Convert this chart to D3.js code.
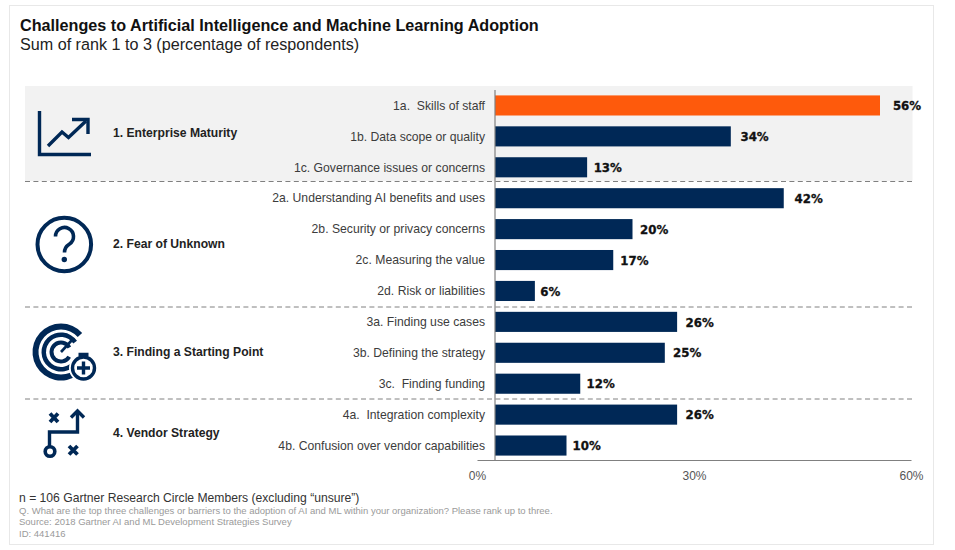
<!DOCTYPE html>
<html>
<head>
<meta charset="utf-8">
<script src="https://cdn.jsdelivr.net/npm/d3@7"></script>
<style>
  html, body { margin: 0; padding: 0; background: #fff; }
  svg { display: block; }
  text { font-family: "Liberation Sans", Arial, sans-serif; white-space: pre; }
</style>
</head>
<body>
<div class="canvas"></div>
<script>
const width = 955;
const height = 550;

const categories = [
  "1a.  Skills of staff",
  "1b. Data scope or quality",
  "1c. Governance issues or concerns",
  "2a. Understanding AI benefits and uses",
  "2b. Security or privacy concerns",
  "2c. Measuring the value",
  "2d. Risk or liabilities",
  "3a. Finding use cases",
  "3b. Defining the strategy",
  "3c.  Finding funding",
  "4a.  Integration complexity",
  "4b. Confusion over vendor capabilities"
];
// they round to the printed labels
const values = [56, 34.3, 13.4, 42, 20, 17.2, 5.8, 26.49, 24.7, 12.4, 26.49, 10.4];

const groups = [
  "1. Enterprise Maturity",
  "2. Fear of Unknown",
  "3. Finding a Starting Point",
  "4. Vendor Strategy"
];
const axisTicks = [0, 30, 60];

const navy = "#002856";
const orange = "#fe5a0c";

// Create Scale Functions
const xScale = d3.scaleLinear().domain([0, 60]).range([495, 907.5]);
// the printed axis sits a bit left of the bars in the original
const tickScale = d3.scaleLinear().domain([0, 60]).range([477, 911]);
// value labels drift away from the bar ends as the bars get longer
const labelScale = d3.scaleLinear().domain([0, 60]).range([499.5, 921]);
const yScale = d3
  .scaleBand()
  .domain(categories)
  .range([90, 461])
  .paddingInner(0.35)
  .paddingOuter(0.175);

// Create SVG Element
const svg = d3
  .select(".canvas")
  .append("svg")
  .attr("width", width)
  .attr("height", height);

// Frame
svg
  .append("rect")
  .attr("x", 9.5)
  .attr("y", 5.5)
  .attr("width", 924)
  .attr("height", 539)
  .attr("fill", "#fff")
  .attr("stroke", "#e8e8e8");

// Title
svg
  .append("text")
  .attr("x", 20)
  .attr("y", 31)
  .attr("font-size", 16.2)
  .attr("font-weight", "bold")
  .attr("fill", "#111")
  .text("Challenges to Artificial Intelligence and Machine Learning Adoption");
svg
  .append("text")
  .attr("x", 20)
  .attr("y", 50)
  .attr("font-size", 16.15)
  .attr("fill", "#222")
  .text("Sum of rank 1 to 3 (percentage of respondents)");

// Shaded first group
svg
  .append("rect")
  .attr("x", 25)
  .attr("y", 86)
  .attr("width", 887.5)
  .attr("height", 95)
  .attr("fill", "#f2f2f2");

// Separators
svg
  .selectAll(".sep")
  .data([181.5, 307, 399])
  .enter()
  .append("line")
  .attr("class", "sep")
  .attr("x1", 25)
  .attr("x2", 912)
  .attr("y1", d => d)
  .attr("y2", d => d)
  .attr("stroke", "#808080")
  .attr("stroke-width", 1)
  .attr("stroke-dasharray", "5 3.4");

// Category labels
svg
  .selectAll(".cat")
  .data(categories)
  .enter()
  .append("text")
  .attr("class", "cat")
  .attr("x", 485)
  .attr("y", d => yScale(d) + yScale.bandwidth() / 2)
  .attr("dy", "0.35em")
  .attr("text-anchor", "end")
  .attr("font-size", 12.2)
  .attr("fill", "#3c3c3c")
  .text(d => d);

// Group labels
svg
  .selectAll(".group")
  .data(groups)
  .enter()
  .append("text")
  .attr("class", "group")
  .attr("x", 113)
  .attr("y", (d, i) => [133, 244, 352, 433][i])
  .attr("dy", "0.35em")
  .attr("font-size", 12.15)
  .attr("font-weight", "bold")
  .attr("fill", "#222")
  .text(d => d);

// Bars
svg
  .selectAll(".bar")
  .data(values)
  .enter()
  .append("rect")
  .attr("class", "bar")
  .attr("x", xScale(0))
  .attr("y", (d, i) => yScale(categories[i]))
  .attr("width", d => xScale(d) - xScale(0))
  .attr("height", yScale.bandwidth())
  .attr("fill", (d, i) => (i === 0 ? orange : navy));

// Value labels
svg
  .selectAll(".val")
  .data(values)
  .enter()
  .append("text")
  .attr("class", "val")
  .attr("x", d => labelScale(d))
  .attr("y", (d, i) => yScale(categories[i]) + yScale.bandwidth() / 2 + 0.5)
  .attr("dy", "0.35em")
  .attr("font-size", 11.8)
  .attr("font-weight", "bold")
  .attr("fill", "#111")
  .attr("stroke", "#111")
  .attr("stroke-width", 0.3)
  .style("font-family", "'DejaVu Sans', sans-serif")
  .text(d => Math.round(d) + "%");

// Create Axis
const xAxis = d3
  .axisBottom(tickScale)
  .tickValues(axisTicks)
  .tickSize(0)
  .tickPadding(11)
  .tickFormat(d => d + "%");
const axisG = svg
  .append("g")
  .attr("transform", "translate(0,460)")
  .call(xAxis);
axisG.select(".domain").attr("stroke", "#808080").attr("stroke-width", 1.2);
axisG
  .selectAll("text")
  .attr("font-size", 12)
  .attr("fill", "#555")
  .style("font-family", "'Liberation Sans', Arial, sans-serif");

svg
  .append("line")
  .attr("x1", xScale(0))
  .attr("x2", xScale(0))
  .attr("y1", 90)
  .attr("y2", 460)
  .attr("stroke", "#808080")
  .attr("stroke-width", 1.2);

// Footer
svg
  .append("text")
  .attr("x", 19)
  .attr("y", 502)
  .attr("font-size", 12.15)
  .attr("fill", "#333")
  .text("n = 106 Gartner Research Circle Members (excluding \u201Cunsure\u201D)");
const notes = [
  "Q. What are the top three challenges or barriers to the adoption of AI and ML within your organization? Please rank up to three.",
  "Source: 2018 Gartner AI and ML Development Strategies Survey",
  "ID: 441416"
];
svg
  .selectAll(".note")
  .data(notes)
  .enter()
  .append("text")
  .attr("class", "note")
  .attr("x", 19)
  .attr("y", (d, i) => 514 + i * 11.3)
  .attr("font-size", 9.5)
  .attr("fill", "#9a9a9a")
  .text(d => d);

// Icons
const icons = svg
  .append("g")
  .attr("fill", "none")
  .attr("stroke", navy)
  .attr("stroke-width", 3.4);

// chart icon
icons.append("path").attr("d", "M39.5 111V154.5H91");
icons.append("path").attr("d", "M48 146L62 132L68.5 137.5L86 121");
icons.append("path").attr("d", "M72 119.5H88V134");

// question icon
icons.append("circle").attr("cx", 64.3).attr("cy", 244.5).attr("r", 26.8).attr("stroke-width", 4);
icons.append("path").attr("d", "M55.5 236.5a9 9 0 1 1 14 7.5c-3.5 2.2-5 4-5 8.5").attr("stroke-width", 3.6);
icons.append("circle").attr("cx", 64.3).attr("cy", 259.5).attr("r", 2.7).attr("fill", navy).attr("stroke", "none");

// target icon
const arc = d3.arc();
const deg = Math.PI / 180;
[[22.5, 28.5, 48], [15, 19.5, 55], [7.5, 11.5, 62]].forEach(r => {
  icons
    .append("path")
    .attr("transform", "translate(61,352)")
    .attr("d", arc({ innerRadius: r[0], outerRadius: r[1], startAngle: 120 * deg, endAngle: (360 + r[2]) * deg }))
    .attr("fill", navy)
    .attr("stroke", "none");
});
icons.append("path").attr("d", "M61 352L72 340").attr("stroke-width", 2.6);
icons.append("circle").attr("cx", 83.5).attr("cy", 368).attr("r", 14.5).attr("fill", "#fff").attr("stroke", "none");
icons.append("circle").attr("cx", 83.5).attr("cy", 368).attr("r", 11).attr("fill", "#fff");
icons.append("path").attr("d", "M77 368H90M83.5 361.5V374.5");
icons.append("path").attr("d", "M78.5 354.5H88.5M83.5 354.5V357");

// play icon
icons.append("path").attr("d", "M49.5 446.5V432H77.5V411");
icons.append("path").attr("d", "M71 417.5L77.5 411L84 417.5");
icons.append("circle").attr("cx", 50).attr("cy", 451.5).attr("r", 4.8).attr("stroke-width", 3.6);
icons.append("path").attr("d", "M50 413.5L58 422M58 413.5L50 422M69 446L77.5 454.5M77.5 446L69 454.5").attr("stroke-width", 3.8);
</script>
</body>
</html>
